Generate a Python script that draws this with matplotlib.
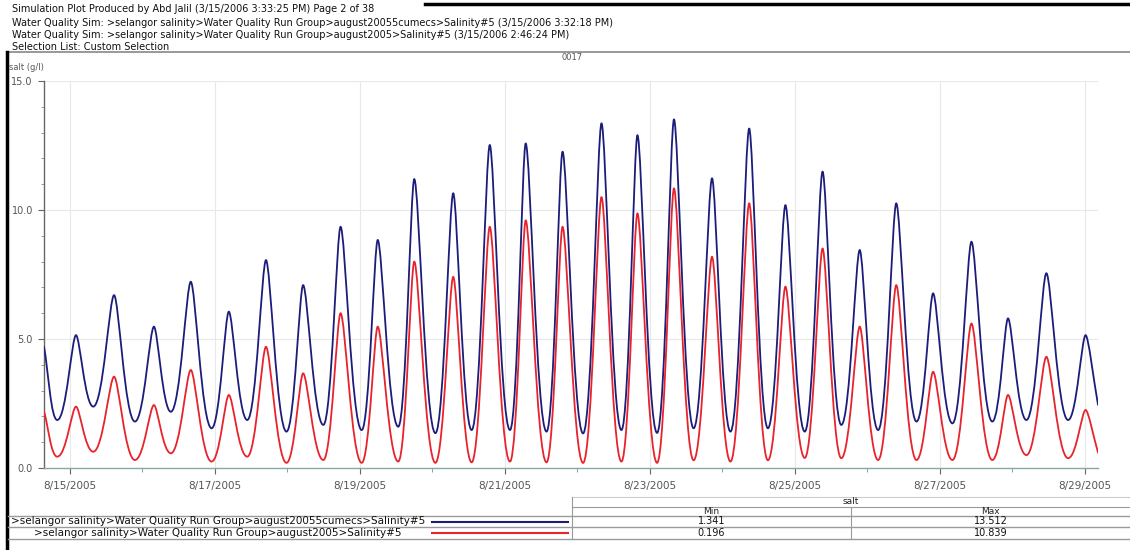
import datetime as dt
import matplotlib
matplotlib.use("Agg")
import matplotlib.pyplot as plt
import matplotlib.dates as mdates
from matplotlib.path import Path
from matplotlib.patches import PathPatch
from matplotlib.lines import Line2D
from matplotlib.ticker import FuncFormatter, MultipleLocator

# ---------------- data ----------------
header_lines = [
    "Simulation Plot Produced by Abd Jalil (3/15/2006 3:33:25 PM) Page 2 of 38",
    "Water Quality Sim: >selangor salinity>Water Quality Run Group>august20055cumecs>Salinity#5 (3/15/2006 3:32:18 PM)",
    "Water Quality Sim: >selangor salinity>Water Quality Run Group>august2005>Salinity#5 (3/15/2006 2:46:24 PM)",
    "Selection List: Custom Selection",
]
plot_title = "0017"
y_label = "salt (g/l)"
series_names = [
    ">selangor salinity>Water Quality Run Group>august20055cumecs>Salinity#5",
    ">selangor salinity>Water Quality Run Group>august2005>Salinity#5",
]
series_colors = ["#1c1c7a", "#e8232b"]
table_header = "salt"
table_columns = ["Min", "Max"]
table_min = ["1.341", "0.196"]
table_max = ["13.512", "10.839"]

base_time = dt.datetime(2005, 8, 15)
# hours after 8/15/2005 00:00
start_hour = -8.6
end_hour = 340.4
trough_hours = [-4.2, 7.7, 21.5, 33.4, 46.9, 58.7, 71.7, 83.9, 96.6, 108.7,
                121.0, 133.0, 145.7, 157.8, 169.9, 182.6, 194.4, 206.5, 218.7,
                231.1, 243.3, 255.4, 267.6, 280.3, 292.2, 305.4, 316.7, 330.5]
peak_hours = [2.0, 14.6, 27.8, 40.0, 52.6, 64.9, 77.2, 89.6, 101.9, 114.0,
              126.9, 139.0, 150.9, 163.1, 176.0, 187.9, 200.0, 212.6, 224.9,
              236.9, 249.2, 261.5, 273.6, 285.8, 298.5, 310.6, 323.3, 336.3]

blue_start, blue_end = 4.7, 2.45
blue_troughs = [1.86, 2.38, 1.80, 2.18, 1.54, 1.86, 1.41, 1.67, 1.47, 1.60,
                1.35, 1.47, 1.47, 1.41, 1.341, 1.47, 1.36, 1.54, 1.41, 1.54,
                1.41, 1.67, 1.47, 1.80, 1.73, 1.80, 1.86, 1.86]
blue_peaks = [5.15, 6.70, 5.48, 7.22, 6.06, 8.06, 7.09, 9.35, 8.84, 11.20,
              10.65, 12.52, 12.58, 12.26, 13.36, 12.90, 13.512, 11.23, 13.16,
              10.19, 11.49, 8.45, 10.26, 6.77, 8.77, 5.80, 7.55, 5.15]

red_start, red_end = 2.2, 0.6
red_troughs = [0.44, 0.63, 0.31, 0.57, 0.25, 0.44, 0.20, 0.31, 0.20, 0.25,
               0.20, 0.22, 0.25, 0.22, 0.196, 0.25, 0.20, 0.30, 0.25, 0.30,
               0.39, 0.38, 0.31, 0.31, 0.31, 0.31, 0.50, 0.38]
red_peaks = [2.38, 3.54, 2.44, 3.80, 2.83, 4.70, 3.67, 6.00, 5.48, 8.00,
             7.41, 9.35, 9.60, 9.35, 10.50, 9.87, 10.839, 8.19, 10.26, 7.03,
             8.51, 5.48, 7.09, 3.73, 5.60, 2.83, 4.31, 2.25]

y_ticks = [0.0, 5.0, 10.0, 15.0]

# ---------------- figure ----------------
W, H = 1130, 550
plt.rcParams['font.family'] = ['DejaVu Sans']
fig = plt.figure(figsize=(W / 100, H / 100), dpi=100)


def fx(x):
    return x / W


def fy(y):
    return 1 - y / H


def hours_to_num(h):
    return mdates.date2num(base_time + dt.timedelta(hours=h))


def build_series(start_v, troughs, peaks, end_v):
    pts = [(start_hour, start_v, 'e')]
    for th, tv, ph, pv in zip(trough_hours, troughs, peak_hours, peaks):
        pts.append((th, tv, 't'))
        pts.append((ph, pv, 'p'))
    pts.append((end_hour, end_v, 'e'))
    return [(hours_to_num(h), v, kind) for h, v, kind in pts]


def smooth_path(pts, k_peak=0.22, k_trough=0.48):
    verts = [(pts[0][0], pts[0][1])]
    codes = [Path.MOVETO]
    for (t0, v0, k0), (t1, v1, k1) in zip(pts[:-1], pts[1:]):
        d = t1 - t0
        if k0 == 'e':
            c1 = (t0 + d / 3, v0 + (v1 - v0) / 3)
        else:
            kk = k_peak if k0 == 'p' else k_trough
            c1 = (t0 + kk * d, v0)
        if k1 == 'e':
            c2 = (t1 - d / 3, v1 - (v1 - v0) / 3)
        else:
            kk = k_peak if k1 == 'p' else k_trough
            c2 = (t1 - kk * d, v1)
        verts += [c1, c2, (t1, v1)]
        codes += [Path.CURVE4, Path.CURVE4, Path.CURVE4]
    return Path(verts, codes)


ax = fig.add_axes([fx(44), fy(468), fx(1098) - fx(44), fy(81) - fy(468)])
ax.set_xlim(hours_to_num(start_hour), hours_to_num(end_hour))
ax.set_ylim(0, 15)

for pts, col, z in [(build_series(blue_start, blue_troughs, blue_peaks, blue_end), series_colors[0], 3),
                    (build_series(red_start, red_troughs, red_peaks, red_end), series_colors[1], 4)]:
    ax.add_patch(PathPatch(smooth_path(pts), fill=False, edgecolor=col,
                           lw=1.3, zorder=z, capstyle='round', joinstyle='round'))

ax.xaxis.set_major_locator(mdates.DayLocator(bymonthday=[15, 17, 19, 21, 23, 25, 27, 29]))
ax.xaxis.set_minor_locator(mdates.DayLocator())
ax.xaxis.set_major_formatter(FuncFormatter(
    lambda v, p: "{d.month}/{d.day}/{d.year}".format(d=mdates.num2date(v))))
ax.set_yticks(y_ticks)
ax.yaxis.set_minor_locator(MultipleLocator(1.0))
ax.yaxis.set_major_formatter(FuncFormatter(lambda v, p: f"{v:.1f}"))

ax.grid(True, which='major', color='#e8e8e8', lw=0.8)
ax.set_axisbelow(True)
for s in ['top', 'right']:
    ax.spines[s].set_visible(False)
ax.spines['left'].set_color('#666666')
ax.spines['bottom'].set_color('#8aa6a6')
ax.spines['left'].set_linewidth(1.0)
ax.spines['bottom'].set_linewidth(1.0)
ax.tick_params(axis='x', which='major', length=4, color='#666666', labelsize=7.5,
               labelcolor='#555555', pad=5)
ax.tick_params(axis='x', which='minor', length=3, color='#669999')
ax.tick_params(axis='y', which='major', length=4, color='#666666', labelsize=7,
               labelcolor='#555555', pad=4)
ax.tick_params(axis='y', which='minor', length=2, color='#888888')

# axis titles
fig.text(fx(9), fy(68), y_label, fontsize=6, color='#555555', va='center', ha='left')
fig.text(fx(572), fy(58), plot_title, fontsize=6, color='#555555', va='center', ha='center')

# header
for yy, line in zip([9, 22.5, 35, 46.5], header_lines):
    fig.text(fx(12), fy(yy), line, fontsize=7, color='#111111', va='center', ha='left')
fig.add_artist(Line2D([fx(425), 1], [fy(4), fy(4)], color='black', lw=2.5))
fig.add_artist(Line2D([fx(8), 1], [fy(51.5), fy(51.5)], color='#888888', lw=1.2))
fig.add_artist(Line2D([fx(7), fx(7)], [fy(52), 0], color='black', lw=2.5))

# table
gray = '#9a9a9a'
x_left, x_split, x_mid, x_right = 8, 572, 851, 1130
row_lines = [497, 507, 516, 527, 539]
fig.add_artist(Line2D([fx(x_split), 1], [fy(row_lines[0])] * 2, color='#cccccc', lw=0.8))
fig.add_artist(Line2D([fx(x_split), 1], [fy(row_lines[1])] * 2, color=gray, lw=0.8))
for yy in row_lines[2:]:
    fig.add_artist(Line2D([fx(x_left), 1], [fy(yy)] * 2, color=gray, lw=1.0))
fig.add_artist(Line2D([fx(x_split)] * 2, [fy(row_lines[0]), fy(row_lines[-1])], color=gray, lw=0.8))
fig.add_artist(Line2D([fx(x_mid)] * 2, [fy(row_lines[1]), fy(row_lines[-1])], color=gray, lw=0.8))

fig.text(fx((x_split + x_right) / 2), fy(502), table_header, fontsize=6.5, color='#222222',
         ha='center', va='center')
fig.text(fx((x_split + x_mid) / 2), fy(511.5), table_columns[0], fontsize=6.5, color='#222222',
         ha='center', va='center')
fig.text(fx((x_mid + x_right) / 2), fy(511.5), table_columns[1], fontsize=6.5, color='#222222',
         ha='center', va='center')
for yy, name, col, mn, mx in zip([521.5, 533], series_names, series_colors, table_min, table_max):
    fig.text(fx(218), fy(yy), name, fontsize=7.5, color='#111111', ha='center', va='center')
    fig.add_artist(Line2D([fx(432), fx(568)], [fy(yy), fy(yy)], color=col, lw=1.5))
    fig.text(fx((x_split + x_mid) / 2), fy(yy), mn, fontsize=7, color='#111111',
             ha='center', va='center')
    fig.text(fx((x_mid + x_right) / 2), fy(yy), mx, fontsize=7, color='#111111',
             ha='center', va='center')

fig.savefig("out.png", dpi=100, facecolor='white')
